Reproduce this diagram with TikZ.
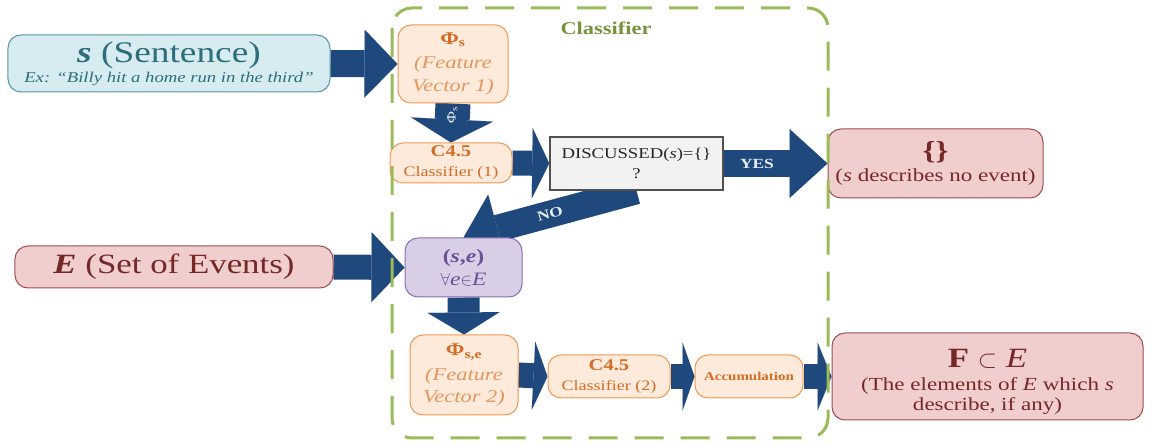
\documentclass[tikz,border=0pt]{standalone}
\usepackage{fontspec}
\setmainfont{Liberation Serif}[FakeStretch=1.25]
\usepackage{tikz}
\usetikzlibrary{arrows.meta,backgrounds}

\definecolor{arrowblue}{RGB}{31,73,125}
\definecolor{tealfill}{RGB}{214,236,241}
\definecolor{tealline}{RGB}{85,148,162}
\definecolor{tealtext}{RGB}{45,110,122}
\definecolor{orgfill}{RGB}{253,234,218}
\definecolor{orgline}{RGB}{240,152,82}
\definecolor{orgtext}{RGB}{212,108,38}
\definecolor{orglight}{RGB}{228,150,95}
\definecolor{redfill}{RGB}{241,206,206}
\definecolor{redline}{RGB}{152,78,78}
\definecolor{redtext}{RGB}{118,40,40}
\definecolor{purfill}{RGB}{216,206,229}
\definecolor{purline}{RGB}{138,110,178}
\definecolor{purtext}{RGB}{108,80,150}
\definecolor{grayfill}{RGB}{242,242,242}
\definecolor{grayline}{RGB}{80,80,80}
\definecolor{clsgreen}{RGB}{155,187,89}
\definecolor{clstext}{RGB}{118,146,60}

\tikzset{
  box/.style={rounded corners=13bp, line width=1bp, align=center, inner sep=0pt},
  sentbox/.style={box, draw=tealline, fill=tealfill, text=tealtext},
  featbox/.style={box, draw=orgline, fill=orgfill, text=orgtext},
  evtbox/.style={box, draw=redline, fill=redfill, text=redtext},
  pairbox/.style={box, draw=purline, fill=purfill, text=purtext},
  testbox/.style={box, rounded corners=0pt, line width=1.5bp, draw=grayline, fill=grayfill, text=black!85},
  fat/.style n args={3}{draw=arrowblue, line width=#1,
    -{Triangle[width=#2, length=#3, line width=0.01pt]}},
  onarrow/.style={text=white!90!arrowblue, font=\bfseries\fontsize{14}{16}\selectfont}
}

\begin{document}
\begin{tikzpicture}[x=1bp, y=-1bp]
    \useasboundingbox (0,0) rectangle (1154,444);

    % Inputs
    \node[sentbox, minimum width=322bp, minimum height=57bp,
          font=\fontsize{15}{20}\selectfont] (sent) at (169,63.5)
      {{\fontsize{30}{24}\selectfont\textbf{\textit{s}} (Sentence)}\\
       \textit{Ex: “Billy hit a home run in the third”}};
    \node[evtbox, minimum width=318bp, minimum height=42bp] (evts) at (174,267)
      {\fontsize{28}{30}\selectfont\textbf{\textit{E}} (Set of Events)};

    % Classifier, first stage
    \node[featbox, minimum width=110bp, minimum height=78bp,
          font=\fontsize{18}{23}\selectfont] (phis) at (453,64)
      {\textbf{Φ\textsubscript{s}}\\[2bp]
       {\color{orglight}\textit{(Feature}}\\
       {\color{orglight}\textit{Vector 1)}}};
    \node[featbox, minimum width=122bp, minimum height=40bp,
          font=\fontsize{14.5}{20}\selectfont] (cone) at (451,163)
      {{\fontsize{16.5}{16}\selectfont\textbf{C4.5}}\\
       Classifier (1)};
    \node[testbox, minimum width=173bp, minimum height=53bp,
          font=\fontsize{15}{20}\selectfont] (disc) at (636.5,163.5)
      {DISCUSSED(\textit{s})=\{\}\\
       ?};
    \node[evtbox, minimum width=215bp, minimum height=69bp,
          font=\fontsize{18.5}{23}\selectfont] (empty) at (935.5,163.5)
      {{\fontsize{26}{22}\selectfont\textbf{\{\}}}\\
       (\textit{s} describes no event)};

    % Classifier, second stage
    \node[pairbox, minimum width=117bp, minimum height=59bp,
          font=\fontsize{19}{23}\selectfont] (se) at (463.5,267.5)
      {\textbf{(\textit{s},\textit{e})}\\
       $\forall$\textit{e}$\in$\textit{E}};
    \node[featbox, minimum width=108bp, minimum height=80bp,
          font=\fontsize{18}{22}\selectfont] (phise) at (464,375)
      {\textbf{Φ\textsubscript{s,e}}\\[3bp]
       {\color{orglight}\textit{(Feature}}\\
       {\color{orglight}\textit{Vector 2)}}};
    \node[featbox, minimum width=122bp, minimum height=43bp,
          font=\fontsize{14.5}{20}\selectfont] (ctwo) at (609,376.5)
      {{\fontsize{16.5}{16}\selectfont\textbf{C4.5}}\\
       Classifier (2)};
    \node[featbox, minimum width=108bp, minimum height=43bp] (acc) at (749,376.5)
      {\fontsize{12}{14}\selectfont\textbf{Accumulation}};
    \node[evtbox, minimum width=311bp, minimum height=87bp,
          font=\fontsize{18.5}{20.5}\selectfont] (subs) at (987.5,376.5)
      {{\fontsize{28}{26}\selectfont\rule{0pt}{29bp}\textbf{F} $\subset$ \textit{E}}\\[2bp]
       (The elements of \textit{E} which \textit{s}\\
       describe, if any)};

    % Block arrows
    \begin{scope}[on background layer]
      \draw[fat={27bp}{68bp}{33bp}] (sent.east) -- (phis.west);
      \draw[fat={35bp}{82bp}{23bp}] (phis.south) -- (cone.north)
        node[pos=0.3, rotate=90, onarrow, font=\fontsize{13}{14}\selectfont] {Φ\textsubscript{s}};
      \draw[fat={25bp}{70bp}{17bp}] (cone.east) -- (disc.west);
      \draw[fat={27bp}{69bp}{38bp}] (disc.east) -- (empty.west)
        node[pos=0.32, onarrow] {YES};
      \draw[fat={27bp}{70bp}{35bp}] (disc.south) -- (se.north)
        node[pos=0.5, sloped, onarrow] {NO};
      \draw[fat={25bp}{70bp}{33bp}] (evts.east) -- (se.west);
      \draw[fat={32bp}{72bp}{22bp}] (se.south) -- (phise.north);
      \draw[fat={25bp}{68bp}{14bp}] (phise.east) -- (ctwo.west);
      \draw[fat={25bp}{68bp}{12bp}] (ctwo.east) -- (acc.west);
      \draw[fat={25bp}{68bp}{14bp}] (acc.east) -- (subs.west);
    \end{scope}

    % Classifier frame
    \draw[clsgreen, line width=3bp, dash pattern=on 29bp off 17bp, rounded corners=20bp]
      (392,8) rectangle (828,438);
    \node[text=clstext, font=\bfseries\fontsize{18}{20}\selectfont] (cls) at (606,28) {Classifier};
\end{tikzpicture}
\end{document}
